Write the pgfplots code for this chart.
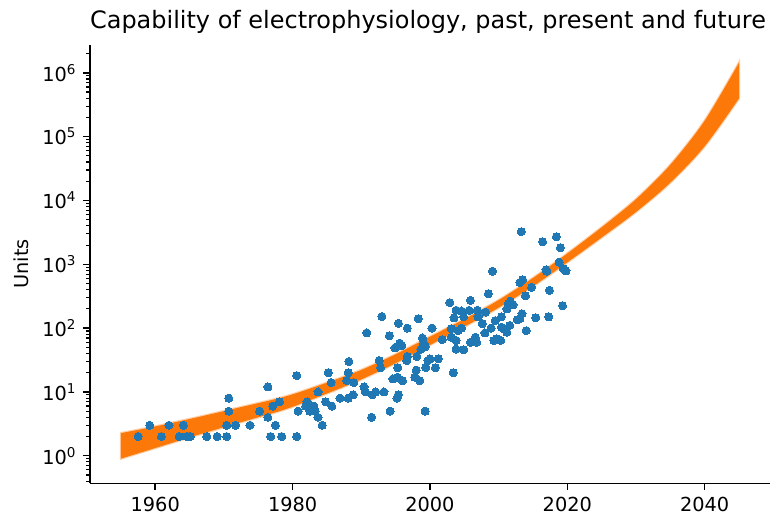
\documentclass[border=0pt]{standalone}
\usepackage{fontspec}
\setmainfont{DejaVu Sans}
\usepackage{pgfplots}
\pgfplotsset{compat=1.18}
\usepgfplotslibrary{fillbetween}
\definecolor{pblue}{HTML}{1F77B4}
\definecolor{porange}{RGB}{252,120,8}

\begin{document}
\begin{tikzpicture}
\begin{axis}[name=ax, scale only axis, width=352pt, height=227pt,
  ymode=log, xmin=1950.5, xmax=2049.5, ymin=0.37, ymax=2.75e6,
  axis x line*=bottom, axis y line*=left,
  axis line style={line width=0.8pt, black},
  tick align=outside, major tick length=3.5pt, minor tick length=2pt,
  every tick/.style={black, line width=0.8pt},
  every minor tick/.style={black, line width=0.6pt},
  xtick={1960,1980,2000,2020,2040},
  /pgf/number format/1000 sep={}, /pgf/number format/assume math mode=true,
  ytick={1,10,100,1000,10000,100000,1000000},
  yticklabels={10\textsuperscript{0},10\textsuperscript{1},10\textsuperscript{2},10\textsuperscript{3},10\textsuperscript{4},10\textsuperscript{5},10\textsuperscript{6}},
  minor ytick={0.4,0.5,0.6,0.7,0.8,0.9,2,3,4,5,6,7,8,9,20,30,40,50,60,70,80,90,200,300,400,500,600,700,800,900,2000,3000,4000,5000,6000,7000,8000,9000,20000,30000,40000,50000,60000,70000,80000,90000,200000,300000,400000,500000,600000,700000,800000,900000,2000000},
  ticklabel style={font=\fontsize{10}{12}\selectfont},
  ylabel={Units}, ylabel style={font=\fontsize{10}{12}\selectfont},
  title={Capability of electrophysiology, past, present and future},
  title style={font=\fontsize{12.4}{14}\selectfont, yshift=-3.5pt, xshift=-1pt},
]
\addplot[name path=U, draw=none, smooth] coordinates {
(1955,2.26) (1960,2.88) (1966,3.98) (1972,5.62) (1979,8.51) (1985,13.96) (1990,22.1) (1995,38.9) (2000,73.3) (2005,138) (2010,275) (2015,610) (2020,1479) (2025,3802) (2030,10471) (2035,36308) (2040,177828) (2045,1445440)};
\addplot[name path=D, draw=none, smooth] coordinates {
(1955,0.90) (1960,1.32) (1966,2.09) (1972,3.24) (1979,5.37) (1985,9.44) (1990,15.7) (1995,28.2) (2000,54.3) (2005,105) (2010,209) (2015,452) (2020,1072) (2025,2630) (2030,6607) (2035,19055) (2040,70795) (2045,398107)};
\addplot[fill=porange, draw=porange, draw opacity=0.35, line width=1.2pt] fill between[of=U and D];

\addplot[only marks, mark=*, mark size=2.1pt, mark options={fill=pblue, draw=pblue, line width=0pt}] coordinates {
(1957.5,2) (1959.2,3) (1960.9,2) (1962.0,3) (1963.5,2) (1964.1,3) (1964.6,2) (1965.1,2)
(1967.5,2) (1969.0,2) (1970.4,2) (1970.4,3) (1970.7,5) (1970.7,8) (1971.7,3) (1973.8,3)
(1975.2,5) (1976.4,12) (1976.4,4) (1976.8,2) (1977.1,6) (1977.5,3) (1978.1,7) (1978.4,2)
(1980.6,18) (1980.6,2) (1980.8,5) (1981.9,6) (1982.1,7) (1982.5,5) (1983.1,6) (1983.3,5)
(1983.7,4) (1983.7,10) (1984.3,3) (1984.8,7) (1985.7,6) (1985.2,20) (1985.6,14) (1986.9,8)
(1988.1,8) (1988.1,20) (1988.2,30) (1987.9,15) (1988.8,9) (1988.9,14) (1990.4,12) (1990.6,10)
(1990.8,84) (1991.5,4) (1991.6,9) (1992.1,10) (1992.6,31) (1992.8,24) (1993.0,152) (1993.3,10)
(1994.1,76) (1994.2,5) (1994.6,16) (1994.9,49) (1995.4,119) (1995.2,8) (1995.3,17) (1995.3,24)
(1995.4,9) (1996.7,100) (1998.3,140) (2000.3,100) (2002.9,250) (2003.8,190) (2004.6,185) (2004.9,150)
(2005.9,272) (2005.7,190) (2003.5,145) (2006.9,190) (2007.0,150) (2008.5,345) (2009.1,780) (2008.1,178)
(2007.6,117) (2008.0,84) (2008.9,100) (2009.5,131) (2010.4,150) (2010.4,103) (2009.7,68) (2009.3,64)
(2010.3,64) (2004.6,100) (2004.1,91) (2003.1,98) (2003.1,72) (2003.8,64) (2003.8,47) (2004.9,46)
(2005.9,60) (2006.6,72) (2006.8,60) (2003.4,20) (2001.8,66) (2001.2,33) (2000.8,24) (2000.0,33)
(1999.7,31) (1999.4,24) (1999.3,5) (1998.9,70) (1999.1,57) (1999.3,51) (1998.7,47) (1998.1,36)
(1998.0,22) (1998.5,15) (1997.8,17) (1996.7,36) (1996.6,31) (1995.9,53) (1995.6,58) (1996.0,15)
(2013.3,3250) (2016.4,2260) (2018.4,2700) (2019.0,1820) (2018.8,1080) (2019.4,850) (2019.8,790) (2016.9,820)
(2017.0,780) (2017.4,390) (2019.3,225) (2017.3,150) (2015.4,145) (2014.8,435) (2013.1,520) (2013.5,570)
(2013.9,320) (2014.0,91) (2011.7,265) (2011.4,240) (2012.1,232) (2011.2,200) (2013.4,168) (2013.1,140)
(2012.7,135) (2011.6,110) (2011.2,86) (2010.7,98)
};
\end{axis}
\pgfresetboundingbox
\path ([xshift=-46.6pt,yshift=-23pt]ax.south west) rectangle ([xshift=4.7pt,yshift=23.2pt]ax.north east);
\end{tikzpicture}
\end{document}
